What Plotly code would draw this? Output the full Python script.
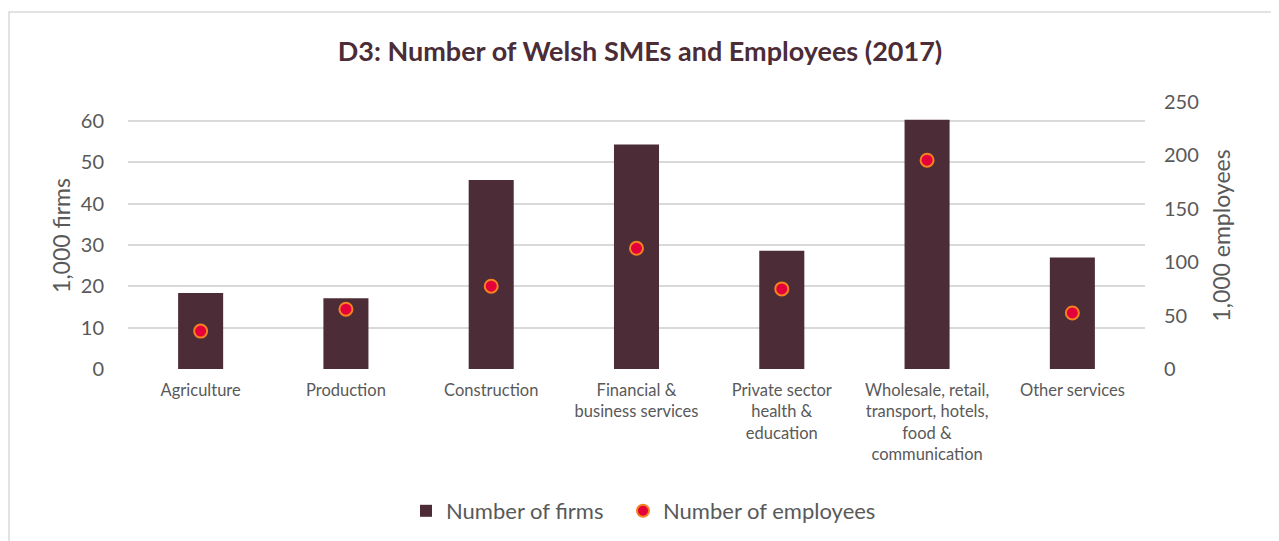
import plotly.graph_objects as go

categories = ["Agriculture", "Production", "Construction", "Financial &<br>business services",
              "Private sector<br>health &<br>education",
              "Wholesale, retail,<br>transport, hotels,<br>food &<br>communication",
              "Other services"]
firms = [18.4, 17.1, 45.7, 54.3, 28.6, 60.3, 27.0]
employees = [35.5, 56.0, 77.5, 113.0, 75.0, 195.5, 52.5]
left_ticks = [0, 10, 20, 30, 40, 50, 60]
right_ticks = [0, 50, 100, 150, 200, 250]

FONT = "Lato"
GREY = "#595959"

# page has an 8px body margin; layout numbers are in figure coordinates
OFF = 8
W, H = 1279 - OFF, 541 - OFF
L, R, T, B = 128 - OFF, 1145 - OFF, 102 - OFF, 369 - OFF
PW, PH = R - L, B - T


def px(page_x):
    return (page_x - OFF - L) / PW


def py(page_y):
    return (B - (page_y - OFF)) / PH


fig = go.Figure()
fig.add_trace(go.Bar(x=categories, y=firms, name="Number of firms",
                     marker=dict(color="#4B2C37", line=dict(width=0)), width=0.31,
                     legend="legend"))
fig.add_trace(go.Scatter(x=categories, y=employees, name="Number of employees", yaxis="y2",
                         mode="markers", legend="legend2",
                         marker=dict(color="#E4003B", size=13, line=dict(color="#F58220", width=2))))

leg_common = dict(orientation="h", yanchor="middle", y=py(511), xanchor="left",
                  font=dict(size=22, color=GREY), itemsizing="constant", itemwidth=30,
                  bgcolor="rgba(0,0,0,0)")

fig.update_layout(
    width=W, height=H,
    margin=dict(l=L, r=W - R, t=T, b=H - B, autoexpand=False),
    paper_bgcolor="white", plot_bgcolor="white",
    font=dict(family=FONT, color=GREY),
    title=dict(text="<b>D3: Number of Welsh SMEs and Employees (2017)</b>",
               x=(640 - OFF) / W, xanchor="center", y=1 - (52 - OFF) / H, yanchor="middle",
               font=dict(family=FONT, size=27, color="#4B2C37")),
    bargap=0.69,
    showlegend=True,
    legend=dict(leg_common, x=px(422 - 16)),
    legend2=dict(leg_common, x=px(639 - 16)),
    xaxis=dict(tickfont=dict(size=16.5, color=GREY), showgrid=False, showline=False,
               automargin=False,
               ticks="outside", ticklen=6, tickcolor="rgba(0,0,0,0)"),
    yaxis=dict(range=[0, 64.6], tickvals=left_ticks, showgrid=True, gridcolor="#D9D9D9",
               gridwidth=1.5, zeroline=False, showline=False, automargin=False,
               tickfont=dict(size=20, color=GREY),
               ticks="outside", ticklen=19, tickcolor="rgba(0,0,0,0)",
               title=dict(text="1,000 firms", font=dict(size=23, color=GREY), standoff=3)),
    yaxis2=dict(range=[0, 250], tickvals=right_ticks, overlaying="y", side="right",
                showgrid=False, zeroline=False, showline=False, automargin=False,
                tickfont=dict(size=20, color=GREY),
                ticks="outside", ticklen=14, tickcolor="rgba(0,0,0,0)",
                title=dict(text="1,000 employees", font=dict(size=23, color=GREY), standoff=16)),
    shapes=[dict(type="rect", xref="paper", yref="paper",
                 x0=px(OFF + 1), x1=px(1275),
                 y0=py(600), y1=py(12),
                 line=dict(color="#D9D9D9", width=1.5), fillcolor="rgba(0,0,0,0)", layer="below")],
)

fig.write_html("out.html")
